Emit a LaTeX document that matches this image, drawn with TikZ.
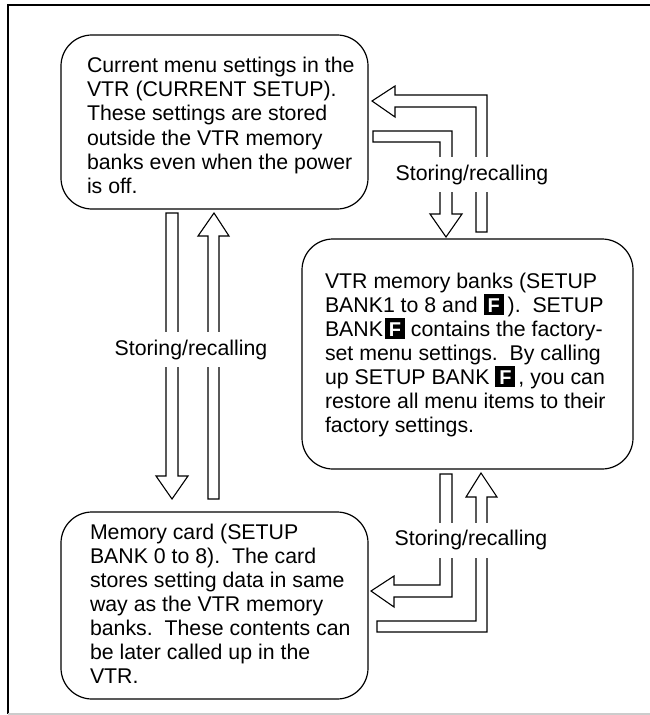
\documentclass[tikz,border=0pt]{standalone}
\usepackage{fontspec}
\setmainfont{Liberation Sans}
\newcommand{\keyF}{\smash{\rlap{\rule[-2.5bp]{20bp}{21bp}}\makebox[20bp]{\textcolor{white}{\fontsize{20bp}{22bp}\selectfont\bfseries F}}}}
\newcommand{\boxlines}[3]{\makebox[#1][l]{\begin{tabular}{@{}l@{}}\noalign{\vskip #2}#3\end{tabular}}}
\tikzset{
  infobox/.style={draw=black,line width=1.2bp,rounded corners=31bp,inner sep=0pt,outer sep=0pt,anchor=center},
  blockarrow/.style={draw=black,fill=white,line width=1.1bp,line join=miter},
  flowlabel/.style={fill=white,inner xsep=1bp,inner ysep=0pt,minimum height=35bp,anchor=center},
  framerule/.style={draw=black,line width=1.4bp}
}
\begin{document}
\begin{tikzpicture}[x=1bp,y=-1bp,every node/.style={font=\fontsize{21.3bp}{24bp}\selectfont}]
\useasboundingbox (0,0) rectangle (650,715);
\draw[framerule] (650,5) -- (8,5) -- (8,714);
\draw[draw=black!20,line width=1.2bp] (8,714) -- (650,714);

\node[infobox,minimum width=307bp,minimum height=174bp] (current) at (214.5,122)
  {\boxlines{255bp}{12.4bp}{Current menu settings in the\\VTR (CURRENT SETUP).\\These settings are stored\\outside the VTR memory\\banks even when the power\\is off.}};
\node[infobox,minimum width=331bp,minimum height=230bp] (banks) at (467.5,354)
  {\boxlines{285bp}{2.4bp}{VTR memory banks (SETUP\\BANK1 to 8 and \keyF\hspace{4bp}).\ \ SETUP\\BANK\hspace{2bp}\keyF{} contains the factory-\\set menu settings.\ \ By calling\\up SETUP BANK \keyF\hspace{3bp}, you can\\restore all menu items to their\\factory settings.}};
\node[infobox,minimum width=307bp,minimum height=187bp] (card) at (214.5,605.5)
  {\boxlines{249bp}{1.4bp}{Memory card (SETUP\\BANK 0 to 8).\ \ The card\\stores setting data in same\\way as the VTR memory\\banks.\ \ These contents can\\be later called up in the\\VTR.}};

% left pair
\draw[blockarrow] (166,213) -- (178,213) -- (178,476) -- (188,476) -- (172,499) -- (156,476) -- (166,476) -- cycle;
\draw[blockarrow] (214,213) -- (229,236) -- (219,236) -- (219,499) -- (208,499) -- (208,236) -- (198,236) -- cycle;
% upper right pair
\draw[blockarrow] (372,101) -- (395,86) -- (395,95) -- (487,95) -- (487,232) -- (476,232) -- (476,107) -- (395,107) -- (395,117) -- cycle;
\draw[blockarrow] (373,131) -- (452,131) -- (452,214) -- (462,214) -- (446,237) -- (430,214) -- (440,214) -- (440,142) -- (373,142) -- cycle;
% lower right pair
\draw[blockarrow] (440,474) -- (452,474) -- (452,597) -- (394,597) -- (394,607) -- (371,591) -- (394,576) -- (394,585) -- (440,585) -- cycle;
\draw[blockarrow] (481,473) -- (497,497) -- (487,497) -- (487,632) -- (377,632) -- (377,621) -- (476,621) -- (476,497) -- (466,497) -- cycle;

\node[flowlabel] (labelleft) at (191,349.5) {Storing/recalling};
\node[flowlabel] (labeltop) at (472,174.5) {Storing/recalling};
\node[flowlabel] (labelbottom) at (471,540) {Storing/recalling};
\end{tikzpicture}
\end{document}
